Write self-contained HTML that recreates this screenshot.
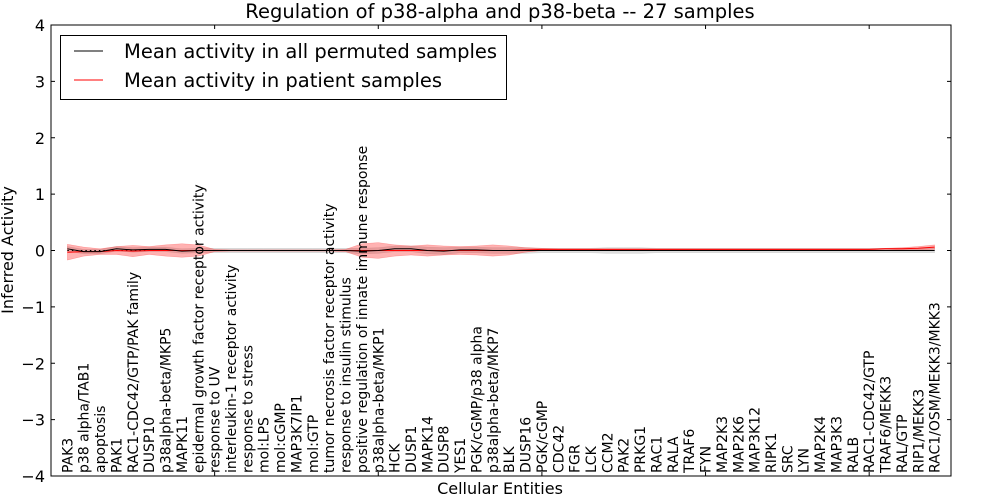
<!DOCTYPE html>
<html><head><meta charset="utf-8"><style>
body{margin:0;background:#fff;}
svg{display:block;font-family:"DejaVu Sans","Liberation Sans",sans-serif;}
</style></head><body>
<svg id="chart" width="1000" height="500" viewBox="0 0 1000 500"></svg>
<script>
const categories=["PAK3","p38 alpha/TAB1","apoptosis","PAK1","RAC1-CDC42/GTP/PAK family","DUSP10","p38alpha-beta/MKP5","MAPK11","epidermal growth factor receptor activity","response to UV","interleukin-1 receptor activity","response to stress","mol:LPS","mol:cGMP","MAP3K7IP1","mol:GTP","tumor necrosis factor receptor activity","response to insulin stimulus","positive regulation of innate immune response","p38alpha-beta/MKP1","HCK","DUSP1","MAPK14","DUSP8","YES1","PGK/cGMP/p38 alpha","p38alpha-beta/MKP7","BLK","DUSP16","PGK/cGMP","CDC42","FGR","LCK","CCM2","PAK2","PRKG1","RAC1","RALA","TRAF6","FYN","MAP2K3","MAP2K6","MAP3K12","RIPK1","SRC","LYN","MAP2K4","MAP3K3","RALB","RAC1-CDC42/GTP","TRAF6/MEKK3","RAL/GTP","RIP1/MEKK3","RAC1/OSM/MEKK3/MKK3"];
const patientMean=[-0.03,-0.02,-0.02,0.0,-0.01,0.0,0.0,0.0,0.0,0.0,0.0,0.0,0.0,0.0,0.0,0.0,0.0,0.0,0.0,0.0,0.0,0.0,0.0,0.0,0.0,0.0,0.0,0.0,0.01,0.02,0.02,0.02,0.02,0.02,0.02,0.02,0.02,0.02,0.02,0.02,0.02,0.02,0.02,0.02,0.02,0.02,0.02,0.02,0.02,0.02,0.03,0.03,0.04,0.06];
const patientSpread=[0.14,0.08,0.05,0.07,0.1,0.07,0.1,0.12,0.1,0.02,0.01,0.01,0.01,0.01,0.01,0.01,0.01,0.02,0.12,0.14,0.1,0.08,0.1,0.08,0.07,0.08,0.1,0.08,0.04,0.02,0.01,0.01,0.01,0.01,0.01,0.01,0.01,0.01,0.01,0.01,0.01,0.01,0.01,0.01,0.01,0.01,0.01,0.01,0.01,0.01,0.01,0.02,0.03,0.04];
const permutedMean=[0.03,-0.02,-0.02,0.03,0.01,0.02,0.02,-0.01,0.0,0.0,0.0,0.0,0.0,0.0,0.0,0.0,0.0,0.0,-0.01,0.0,0.03,0.03,0.0,-0.01,0.01,0.01,0.0,0.0,0.0,0.0,0.0,0.0,0.0,0.0,0.0,0.0,0.0,0.0,0.0,0.0,0.0,0.0,0.0,0.0,0.0,0.0,0.0,0.0,0.0,0.0,0.0,0.0,0.0,0.0];
const permutedSpread=[0.04,0.04,0.04,0.04,0.04,0.04,0.04,0.04,0.04,0.04,0.04,0.04,0.04,0.04,0.04,0.04,0.04,0.04,0.05,0.05,0.05,0.05,0.06,0.06,0.05,0.05,0.05,0.05,0.05,0.04,0.04,0.04,0.04,0.05,0.05,0.05,0.04,0.04,0.04,0.04,0.04,0.04,0.04,0.04,0.04,0.04,0.04,0.04,0.04,0.04,0.04,0.04,0.04,0.04];
const yTicks=[-4,-3,-2,-1,0,1,2,3,4];
const xTicks=[10,20,30,40,50];

const L=51,R=951,T=25,B=476;
const xs=i=>L+(i+1)*(R-L)/55;
const xv=v=>L+v*(R-L)/55;
const ys=v=>B-(v+4)*(B-T)/8;
const svg=document.getElementById('chart');
const NS='http://www.w3.org/2000/svg';
function mk(t,a,p){const e=document.createElementNS(NS,t);for(const k in a)e.setAttribute(k,a[k]);(p||svg).appendChild(e);return e;}

function band(mean,spread,fill,op,name){
  let up=mean.map((m,i)=>xs(i)+','+ys(m+spread[i]));
  let dn=mean.map((m,i)=>xs(i)+','+ys(m-spread[i])).reverse();
  const p=mk('polygon',{points:up.concat(dn).join(' '),fill:fill,'fill-opacity':op,stroke:fill,'stroke-opacity':op,'stroke-width':0.5});
  
  
}
band(permutedMean,permutedSpread,'#aaaaaa',0.4,'permuted-band');
band(patientMean,patientSpread,'#ff0000',0.3,'patient-band');

const zl=mk('line',{x1:xs(0),x2:xs(categories.length-1),y1:ys(0),y2:ys(0),stroke:'#000','stroke-width':1,'stroke-dasharray':'1.5,3'});



function line(vals,color,name){
  const p=mk('polyline',{points:vals.map((v,i)=>xs(i)+','+ys(v)).join(' '),fill:'none',stroke:color,'stroke-width':1});
  
  
}
line(patientMean,'#ff0000','patient-mean-line');
line(permutedMean,'#000000','permuted-mean-line');

const box=mk('rect',{x:L,y:T,width:R-L,height:B-T,fill:'none',stroke:'#000','stroke-width':1});



yTicks.forEach(v=>{
  mk('line',{x1:L,x2:L+4,y1:ys(v),y2:ys(v),stroke:'#000'});
  mk('line',{x1:R,x2:R-4,y1:ys(v),y2:ys(v),stroke:'#000'});
  const t=mk('text',{x:L-6,y:ys(v)+6,'text-anchor':'end','font-size':16});
  t.textContent=(v<0?'\u2212':'')+Math.abs(v);
  
  
});
xTicks.forEach(v=>{
  mk('line',{x1:xv(v),x2:xv(v),y1:T,y2:T+4,stroke:'#000'});
  mk('line',{x1:xv(v),x2:xv(v),y1:B,y2:B-4,stroke:'#000'});
});

categories.forEach((c,i)=>{
  const x=xs(i)+5,y=473;
  const t=mk('text',{x:x,y:y,'font-size':14,transform:'rotate(-90 '+x+' '+y+')'});
  t.textContent=c;
  
  
});

const title=mk('text',{x:500,y:18,'text-anchor':'middle','font-size':19.5});
title.textContent='Regulation of p38-alpha and p38-beta -- 27 samples';


const xt=mk('text',{x:500,y:494,'text-anchor':'middle','font-size':16});
xt.textContent='Cellular Entities';


const yt=mk('text',{x:13,y:250,'text-anchor':'middle','font-size':16,transform:'rotate(-90 13 250)'});
yt.textContent='Inferred Activity';



const lg=mk('g',{});


mk('rect',{x:60.5,y:35.5,width:446,height:64,fill:'#fff',stroke:'#000','stroke-width':1},lg);
const e1=mk('g',{},lg);


mk('line',{x1:74,x2:103,y1:51,y2:51,stroke:'#000'},e1);
mk('text',{x:124,y:58,'font-size':19.5},e1).textContent='Mean activity in all permuted samples';
const e2=mk('g',{},lg);


mk('line',{x1:74,x2:103,y1:80,y2:80,stroke:'#f00'},e2);
mk('text',{x:124,y:87,'font-size':19.5},e2).textContent='Mean activity in patient samples';
</script>
</body></html>
